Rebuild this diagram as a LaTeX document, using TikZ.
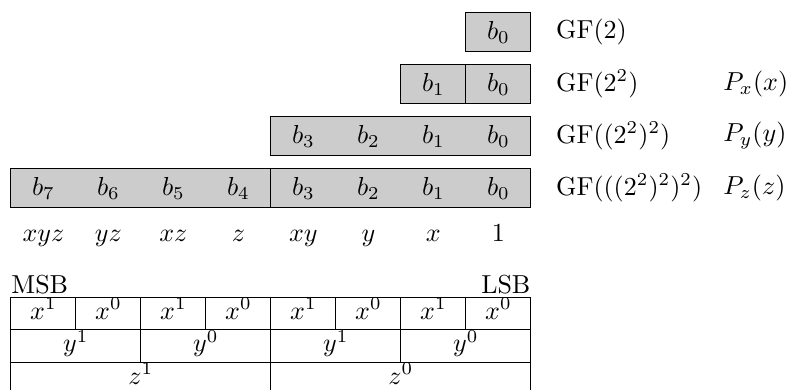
\documentclass[tikz,border=0pt]{standalone}
\usetikzlibrary{positioning}
\begin{document}
\begin{tikzpicture}[x=1pt,y=-1pt,node distance=9.5pt,
 reg/.style={draw,fill=black!20,minimum height=15pt,inner sep=0pt,outer sep=0pt,anchor=north east},
 cell/.style={draw,minimum height=12.5pt,inner sep=0pt,outer sep=0pt,anchor=north west,text height=8.3pt,text depth=4.2pt},
 txt/.style={inner sep=0pt}]
\useasboundingbox (0,0) rectangle (302.7,150);
\node[reg,minimum width=25pt] (f1) at (204.2,4.7) {};
\node[reg,minimum width=25pt] (f2lo) at (204.2,24.7) {};
\node[reg,minimum width=25pt,left=0pt of f2lo] (f2hi) {};
\node[reg,minimum width=100pt] (f3) at (204.2,44.7) {};
\node[reg,minimum width=100pt] (f4lo) at (204.2,64.7) {};
\node[reg,minimum width=100pt,left=0pt of f4lo] (f4hi) {};
\foreach \n/\r in {0/1,1/2,3/3,7/4}\foreach \i in {0,...,\n}
 \node[txt,anchor=base] (b\r\i) at ({191.7-25*\i},{20*\r-4.9}) {$b_{\i}$};
\node[txt,right=of f1] (g1) {GF$(2)$};
\node[txt,right=of f2lo] (g2) {GF$(2^2)$};
\node[txt,right=of f3] (g3) {GF$((2^2)^2)$};
\node[txt,right=of f4lo] (g4) {GF$(((2^2)^2)^2)$};
\node[txt,anchor=west] (px) at (278,32.2) {$P_x(x)$};
\node[txt,anchor=west] (py) at (278,52.2) {$P_y(y)$};
\node[txt,anchor=west] (pz) at (278,72.2) {$P_z(z)$};
\foreach \m [count=\k from 0] in {1,x,y,xy,z,xz,yz,xyz}
 \node[txt,anchor=base] (m\k) at ({191.7-25*\k},92.7) {$\m$};
\node[txt,anchor=base west] (msb) at (4.2,113) {MSB};
\node[txt,anchor=base east] (lsb) at (204.2,113) {LSB};
\foreach \e [count=\k from 0] in {1,0,1,0,1,0,1,0}
 \node[cell,minimum width=25pt] (x\k) at ({4.2+25*\k},114.4) {$x^\e$};
\foreach \e [count=\k from 0] in {1,0,1,0}
 \node[cell,minimum width=50pt] (y\k) at ({4.2+50*\k},126.9) {$y^\e$};
\foreach \e [count=\k from 0] in {1,0}
 \node[cell,minimum width=100pt] (z\k) at ({4.2+100*\k},139.4) {$z^\e$};
\end{tikzpicture}
\end{document}
